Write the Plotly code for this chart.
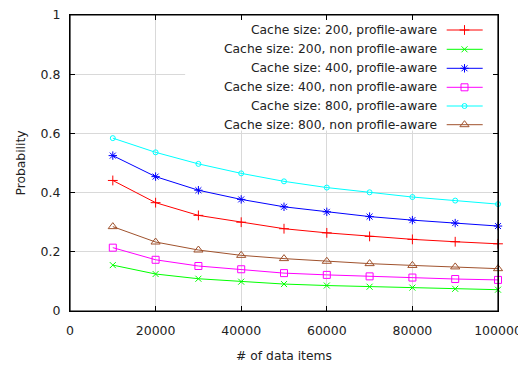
import plotly.graph_objects as go

x_items = [10000, 20000, 30000, 40000, 50000, 60000, 70000, 80000, 90000, 100000]

p200_aware = [0.441, 0.366, 0.323, 0.300, 0.278, 0.264, 0.252, 0.242, 0.234, 0.227]
p200_non = [0.155, 0.125, 0.109, 0.099, 0.091, 0.086, 0.082, 0.079, 0.075, 0.072]
p400_aware = [0.525, 0.454, 0.408, 0.377, 0.352, 0.335, 0.319, 0.307, 0.297, 0.287]
p400_non = [0.214, 0.173, 0.152, 0.141, 0.128, 0.122, 0.117, 0.113, 0.108, 0.105]
p800_aware = [0.584, 0.536, 0.497, 0.465, 0.438, 0.417, 0.401, 0.385, 0.373, 0.361]
p800_non = [0.285, 0.233, 0.206, 0.188, 0.177, 0.168, 0.160, 0.154, 0.149, 0.143]

names = [
    "Cache size: 200, profile-aware",
    "Cache size: 200, non profile-aware",
    "Cache size: 400, profile-aware",
    "Cache size: 400, non profile-aware",
    "Cache size: 800, profile-aware",
    "Cache size: 800, non profile-aware",
]
series = [p200_aware, p200_non, p400_aware, p400_non, p800_aware, p800_non]
colors = ["#ff0000", "#00ff00", "#0000ff", "#ff00ff", "#00ffff", "#a0522d"]
symbols = ["cross-thin-open", "x-thin-open", "asterisk-open", "square-open", "circle-open", "triangle-up-open"]
sizes = [7, 6, 7, 7, 5, 8]

x_ticks = [0, 20000, 40000, 60000, 80000, 100000]
y_ticks = [0, 0.2, 0.4, 0.6, 0.8, 1]

FONT = "DejaVu Sans"
W, H = 518, 365
ML, MR, MT, MB = 70, 20, 15, 54
PW, PH = W - ML - MR, H - MT - MB

fig = go.Figure()

# white key background (hides grid under the key)
fig.add_shape(type="rect", xref="x", yref="y", x0=26900, x1=99700, y0=0.61, y1=0.997,
              fillcolor="white", line=dict(width=0), layer="between")
# plot border
fig.add_shape(type="rect", xref="paper", yref="paper", x0=0, x1=1, y0=0, y1=1,
              fillcolor="rgba(0,0,0,0)", line=dict(color="black", width=1.2), layer="above")

for name, ys, c, s, sz in zip(names, series, colors, symbols, sizes):
    fig.add_trace(go.Scatter(
        x=x_items, y=ys, mode="lines+markers", name=name,
        line=dict(color=c, width=1),
        marker=dict(symbol=s, size=sz, color=c, line=dict(color=c, width=1)),
        showlegend=False, cliponaxis=False,
    ))

# custom gnuplot-style key (text left of sample), in pixel-like overlay axes
key_rows_y = [15, 34.3, 53.3, 72.3, 91, 109.7]
for name, c, s, sz, ky in zip(names, colors, symbols, sizes, key_rows_y):
    fig.add_trace(go.Scatter(
        x=[376.7, 412.7], y=[ky, ky], mode="lines", xaxis="x2", yaxis="y2",
        line=dict(color=c, width=1), showlegend=False, hoverinfo="skip",
    ))
    fig.add_trace(go.Scatter(
        x=[394.5], y=[ky], mode="markers", xaxis="x2", yaxis="y2",
        marker=dict(symbol=s, size=sz, color=c, line=dict(color=c, width=1)),
        showlegend=False, hoverinfo="skip",
    ))
    fig.add_annotation(
        x=369, y=ky, xref="x2", yref="y2", text=name, showarrow=False,
        xanchor="right", yanchor="middle", font=dict(family=FONT, size=12.3, color="#222"),
    )

axis_common = dict(
    showline=True, linecolor="black", linewidth=1.2, mirror="allticks",
    ticks="inside", ticklen=5, tickcolor="black", tickwidth=1,
    showgrid=True, gridcolor="#d9d9d9", gridwidth=1, zeroline=False,
    tickfont=dict(family=FONT, size=12.5, color="#222"),
    ticklabeloverflow="allow",
)

fig.update_layout(
    width=W, height=H,
    margin=dict(l=ML, r=MR, t=MT, b=MB, autoexpand=False),
    paper_bgcolor="white", plot_bgcolor="white",
    xaxis=dict(range=[0, 100000], tickvals=x_ticks, ticktext=[str(v) for v in x_ticks],
               title=dict(text="# of data items", font=dict(family=FONT, size=12.3, color="#222"), standoff=14),
               automargin=False, ticklabelstandoff=8, **axis_common),
    yaxis=dict(range=[0, 1], tickvals=y_ticks, ticktext=["0", "0.2", "0.4", "0.6", "0.8", "1"],
               title=dict(text="Probability", font=dict(family=FONT, size=12.3, color="#222"), standoff=12),
               automargin=False, ticklabelstandoff=6, **axis_common),
    xaxis2=dict(overlaying="x", range=[0, PW], visible=False, fixedrange=True),
    yaxis2=dict(overlaying="y", range=[PH, 0], visible=False, fixedrange=True),
    showlegend=False,
)

fig.write_html("out.html")
